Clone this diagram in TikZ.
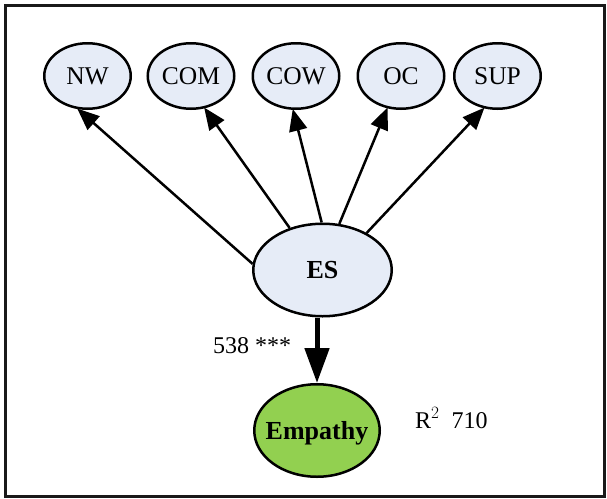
\documentclass[tikz,border=0pt]{standalone}
\usepackage{fontspec}
\setmainfont{Liberation Serif}
\usetikzlibrary{shapes.geometric,arrows.meta}
\definecolor{factorfill}{RGB}{230,236,247}
\definecolor{outcomefill}{RGB}{146,208,80}
\tikzset{
  latent/.style={ellipse, draw=black, line width=2.5pt, fill=factorfill,
    inner sep=0pt, font=\fontsize{26}{30}\selectfont\bfseries},
  indicator/.style={latent, minimum width=86.5pt, minimum height=65.5pt,
    font=\fontsize{25.5}{29}\selectfont},
  loading/.style={line width=2.5pt, -{Triangle[length=22pt,width=18pt]}, shorten >=-1pt},
  pathway/.style={line width=5pt, -{Triangle[length=35pt,width=24pt]}},
  note/.style={font=\fontsize{24}{28}\selectfont, inner sep=0pt}
}
\begin{document}
\begin{tikzpicture}[x=1pt,y=-1pt]
  \useasboundingbox (0,0) rectangle (607,498);
  % outer frame
  \draw[line width=3pt, black!90] (5.5,5.5) rectangle (604.5,496);

  % first-order factors
  \node[indicator] (NW)  at (87.5,76)  {NW};
  \node[indicator] (COM) at (191,76)   {COM};
  \node[indicator] (COW) at (296,76)   {COW};
  \node[indicator] (OC)  at (401,76)   {OC};
  \node[indicator] (SUP) at (497.5,76) {SUP};

  % second-order factor and outcome
  \node[latent, minimum width=138.5pt, minimum height=92.5pt] (ES) at (322.5,270) {ES};
  \node[latent, fill=outcomefill, minimum width=125.5pt, minimum height=92.5pt,
    inner xsep=-7pt, text depth=0pt]
    (EMP) at (317,430.5) {Empathy};

  % loadings
  \draw[loading] (ES.175.9) -- (NW.254.7);
  \draw[loading] (ES.128.7) -- (COM.293);
  \draw[loading] (ES.91.8)  -- (COW.265);
  \draw[loading] (ES.70)    -- (OC.247);
  \draw[loading] (ES.40.5)  -- (SUP.247.7);

  % structural path
  \draw[pathway] (ES.south -| EMP.north) -- (EMP.north);

  % coefficients
  \node[note, anchor=base west] (beta) at (213,353) {538 ***};
  \node[note, anchor=base west] (rsq)  at (415,428) {R$^{2}$\ \ 710};
\end{tikzpicture}
\end{document}
